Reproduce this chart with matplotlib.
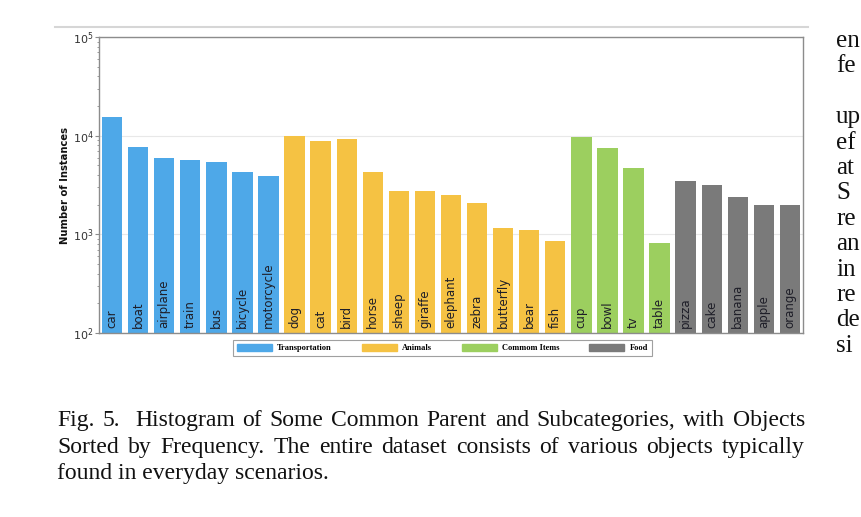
import numpy as np
import matplotlib.pyplot as plt
from matplotlib.lines import Line2D
from matplotlib.patches import Patch
import matplotlib.transforms as mtransforms

# data (instances, log scale)
transport_names = ["car", "boat", "airplane", "train", "bus", "bicycle", "motorcycle"]
transport_vals = [15300, 7740, 5950, 5720, 5420, 4330, 3880]
animal_names = ["dog", "cat", "bird", "horse", "sheep", "giraffe", "elephant",
                "zebra", "butterfly", "bear", "fish"]
animal_vals = [10000, 8900, 9180, 4260, 2740, 2740, 2480, 2090, 1150, 1115, 857]
item_names = ["cup", "bowl", "tv", "table"]
item_vals = [9620, 7570, 4670, 824]
food_names = ["pizza", "cake", "banana", "apple", "orange"]
food_vals = [3485, 3150, 2400, 1977, 1977]

group_labels = ["Transportation", "Animals", "Commom Items", "Food"]
group_colors = ["#4ea8e8", "#f5c243", "#9ccf5f", "#7a7a7a"]

caption = [
    "Fig. 5.  Histogram of Some Common Parent and Subcategories, with Objects",
    "Sorted by Frequency. The entire dataset consists of various objects typically",
    "found in everyday scenarios.",
]
side_text = ["en", "fe", "", "up", "ef", "at", "S", "re", "an", "in", "re", "de", "si"]

W, H = 862, 517
fig = plt.figure(figsize=(W / 100, H / 100), dpi=100)
fig.patch.set_facecolor("white")

ax = fig.add_axes([99 / W, 1 - 333 / H, (803 - 99) / W, (333 - 37) / H])

groups = [(transport_names, transport_vals), (animal_names, animal_vals),
          (item_names, item_vals), (food_names, food_vals)]
names, values, colors = [], [], []
for (n, v), c in zip(groups, group_colors):
    names += n
    values += v
    colors += [c] * len(n)
x = np.arange(len(names))

ax.bar(x, values, width=0.78, color=colors, zorder=2)
ax.set_yscale("log")
ax.set_ylim(1e2, 1e5)
ax.set_xlim(-0.5, len(names) - 0.5)
ax.set_xticks([])
ax.yaxis.grid(True, which="major", color="#e8e8e8", lw=0.8)
ax.set_axisbelow(True)
for s in ax.spines.values():
    s.set_color("#8c8c8c")
    s.set_linewidth(1.0)
ax.tick_params(axis="y", which="major", labelsize=8, length=3, width=0.8,
               color="#8c8c8c", labelcolor="#333333", pad=1)
ax.tick_params(axis="y", which="minor", length=1.8, width=0.6, color="#8c8c8c")
ax.set_ylabel("Number of Instances", fontsize=7.2, fontweight="bold", color="#111111")
ax.yaxis.set_label_coords(-0.041, 0.5)

# category names written inside the bars
trans = mtransforms.blended_transform_factory(ax.transData, ax.transAxes)
for xi, n in zip(x, names):
    ax.text(xi, 0.017, n, rotation=90, ha="center", va="bottom", fontsize=8.5,
            color="#1e1e28", transform=trans)

handles = [Patch(color=c, label=l) for c, l in zip(group_colors, group_labels)]
leg = fig.legend(handles=handles, loc="upper center",
                 bbox_to_anchor=(442.5 / W, 1 - 340 / H), ncol=4,
                 fancybox=False, edgecolor="#888888",
                 prop={"family": "Liberation Serif", "weight": "bold", "size": 6},
                 handlelength=4.2, handleheight=0.9, columnspacing=3.6,
                 borderpad=0.45, handletextpad=0.6, borderaxespad=0)
leg.get_frame().set_linewidth(0.8)

# page rule above the figure
fig.add_artist(Line2D([55 / W, 808 / W], [1 - 27 / H] * 2, color="#d6d6d6",
                      lw=1.5, transform=fig.transFigure))

# caption, first two lines justified
capfont = dict(family="Liberation Serif", fontsize=17, color="#111111", va="baseline")
renderer = fig.canvas.get_renderer()
x0, x1 = 57, 805
baselines = [426, 453, 479]
for k, line in enumerate(caption):
    y = 1 - baselines[k] / H
    if k == len(caption) - 1:
        fig.text(x0 / W, y, line, **capfont)
        continue
    words = line.split(" ")
    texts = [fig.text(0, y, w, **capfont) for w in words]
    widths = [t.get_window_extent(renderer).width if w else 0 for t, w in zip(texts, words)]
    gap = (x1 - x0 - sum(widths)) / (len(words) - 1)
    xp = x0
    for t, w in zip(texts, widths):
        t.set_x(xp / W)
        xp += w + gap

# neighbouring column, cut off by the page edge
for i, frag in enumerate(side_text):
    if frag:
        fig.text(836 / W, 1 - (47 + i * 25.4) / H, frag, family="Liberation Serif",
                 fontsize=18, color="#111111", va="baseline")

fig.savefig("out.png", dpi=100)
